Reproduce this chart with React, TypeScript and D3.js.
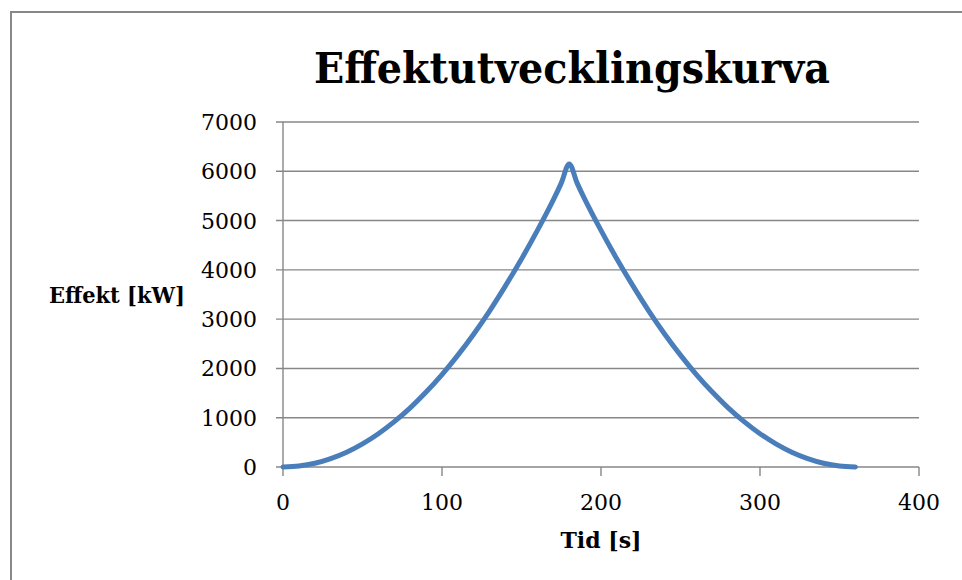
import React from "react";
import * as d3 from "d3";

// Heat release rate over time
const timeS: number[] = [
  0, 10, 20, 30, 40, 50, 60, 70, 80, 90, 100, 110, 120, 130, 140, 150, 160, 170, 175,
  180, 185, 190, 200, 210, 220, 230, 240, 250, 260, 270, 280, 290, 300, 310, 320, 330,
  340, 350, 360,
];
const effectKW: number[] = [
  0, 20, 75, 170, 300, 470, 675, 920, 1200, 1520, 1875, 2270, 2700, 3170, 3680, 4220,
  4800, 5420, 5760, 6150, 5760, 5420, 4800, 4220, 3680, 3170, 2700, 2270, 1875, 1520,
  1200, 920, 675, 470, 300, 170, 75, 20, 0,
];

const xTicks: number[] = [0, 100, 200, 300, 400];
const yTicks: number[] = [0, 1000, 2000, 3000, 4000, 5000, 6000, 7000];

const titleText = "Effektutvecklingskurva";
const xLabel = "Tid [s]";
const yLabel = "Effekt [kW]";

const W = 962;
const H = 580;
const plot = { left: 283, right: 919, top: 122, bottom: 467 };

const gridColor = "#878787";
const lineColor = "#4a7ebb";
const serif = "'DejaVu Serif', 'Liberation Serif', serif";

export default function App() {
  const x = d3.scaleLinear().domain([0, 400]).range([plot.left, plot.right]);
  const y = d3.scaleLinear().domain([0, 7000]).range([plot.bottom, plot.top]);

  const points: [number, number][] = timeS.map((t, i) => [t, effectKW[i]]);
  const line = d3
    .line<[number, number]>()
    .x((d) => x(d[0]))
    .y((d) => y(d[1]))
    .curve(d3.curveCatmullRom.alpha(0.5));

  return (
    <svg
      width={W}
      height={H}
      viewBox={`0 0 ${W} ${H}`}
      style={{ position: "absolute", left: 0, top: 0, background: "#fff" }}
    >
      <rect x={11} y={12} width={1000} height={1000} fill="#fff" stroke="#888" strokeWidth={2} />

      <text
        x={314}
        y={83}
        fontFamily={serif}
        fontWeight="bold"
        fontSize={42}
        textLength={516}
        lengthAdjust="spacingAndGlyphs"
        fill="#000"
      >
        {titleText}
      </text>

      {/* horizontal gridlines and y tick marks */}
      {yTicks.map((v) => (
        <g key={`y${v}`}>
          <line
            x1={plot.left - 7}
            x2={plot.right}
            y1={y(v)}
            y2={y(v)}
            stroke={gridColor}
            strokeWidth={1.4}
          />
          <text
            x={257}
            y={y(v) + 8}
            textAnchor="end"
            fontFamily={serif}
            fontSize={22}
            fill="#000"
          >
            {v}
          </text>
        </g>
      ))}

      {/* y axis line */}
      <line
        x1={plot.left}
        x2={plot.left}
        y1={plot.top}
        y2={plot.bottom}
        stroke={gridColor}
        strokeWidth={1.4}
      />

      {/* x tick marks and labels */}
      {xTicks.map((v) => (
        <g key={`x${v}`}>
          <line
            x1={x(v)}
            x2={x(v)}
            y1={plot.bottom}
            y2={plot.bottom + 9}
            stroke={gridColor}
            strokeWidth={1.4}
          />
          <text
            x={x(v)}
            y={510}
            textAnchor="middle"
            fontFamily={serif}
            fontSize={22}
            fill="#000"
          >
            {v}
          </text>
        </g>
      ))}

      <path
        d={line(points) ?? ""}
        fill="none"
        stroke={lineColor}
        strokeWidth={5}
        strokeLinecap="round"
        strokeLinejoin="round"
      />

      <text
        x={49}
        y={303}
        fontFamily={serif}
        fontWeight="bold"
        fontSize={22}
        textLength={136}
        lengthAdjust="spacingAndGlyphs"
        fill="#000"
      >
        {yLabel}
      </text>
      <text
        x={(plot.left + plot.right) / 2}
        y={548}
        textAnchor="middle"
        fontFamily={serif}
        fontWeight="bold"
        fontSize={22}
        fill="#000"
      >
        {xLabel}
      </text>
    </svg>
  );
}
